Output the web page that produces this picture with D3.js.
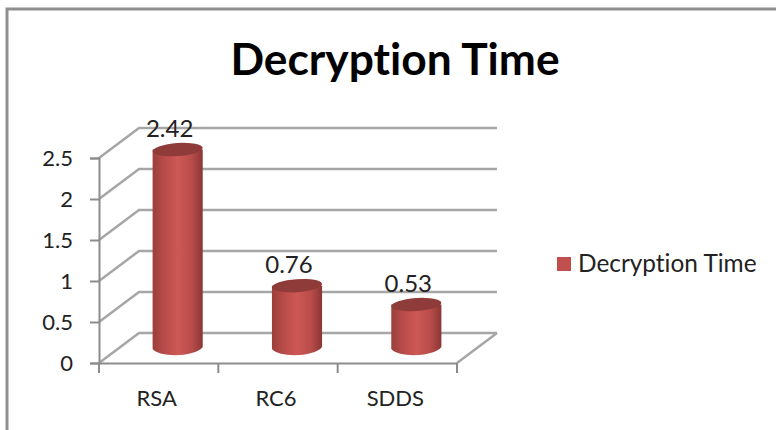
<!DOCTYPE html>
<html>
<head>
<meta charset="utf-8">
<script src="https://cdn.jsdelivr.net/npm/d3@7"></script>
<style>
  html, body { margin: 0; padding: 0; background: #fff; }
  svg { display: block; }
  text { font-family: Lato, "Noto Sans", sans-serif; fill: #222; font-variant-ligatures: none; }
  .axis path, .axis line { stroke: #8c8c8c; stroke-width: 2; }
  .axis text { font-size: 22px; fill: #222; font-family: Lato, sans-serif; }
</style>
</head>
<body>
<svg id="chart" width="776" height="430"></svg>
<script>
var chartTitle = 'Decryption Time';
var seriesName = 'Decryption Time';
var categories = ['RSA', 'RC6', 'SDDS'];
var seriesValues = [2.42, 0.76, 0.53];
var yTicks = [0, 0.5, 1, 1.5, 2, 2.5];

var width = 776;
var height = 430;
var margins = { top: 158, left: 99, right: 319, bottom: 67 };
var depthX = 40; // 3d wall offset
var depthY = 30;
var gridColor = '#a6a6a6';

var svg = d3.select('#chart');

var x = d3.scaleBand()
  .domain(categories)
  .range([margins.left, width - margins.right])
  .paddingInner(0.58)
  .paddingOuter(0.29);
var xTicks = d3.scaleBand().domain(categories).range([margins.left, width - margins.right]);
var y = d3.scaleLinear()
  .domain([0, d3.max(yTicks)])
  .range([height - margins.bottom, margins.top]);

// cylinder shading
var defs = svg.append('defs');
var grad = defs.append('linearGradient').attr('id', 'barSide');
[[0, '#9a3e3c'], [0.2, '#b54a48'], [0.5, '#cd5855'], [0.78, '#b94c4a'], [1, '#8a3735']].forEach(function (s) {
  grad.append('stop').attr('offset', s[0]).attr('stop-color', s[1]);
});

// frame
svg.append('path')
  .attr('d', 'M7,430V9H776')
  .attr('fill', 'none')
  .attr('stroke', '#8f8f8f')
  .attr('stroke-width', 3);

svg.append('text')
  .attr('x', 395)
  .attr('y', 75)
  .attr('text-anchor', 'middle')
  .attr('font-size', 44.3)
  .attr('font-weight', 700)
  .style('fill', '#000')
  .text(chartTitle);

// walls + floor
var walls = svg.append('g').attr('fill', 'none').attr('stroke', gridColor).attr('stroke-width', 2.5);
walls.selectAll('path.grid')
  .data(yTicks)
  .enter()
  .append('path')
  .attr('class', 'grid')
  .attr('d', function (d) {
    return 'M' + margins.left + ',' + y(d) +
      'L' + (margins.left + depthX) + ',' + (y(d) - depthY) +
      'H' + (width - margins.right + depthX);
  });
walls.append('path')
  .attr('d', 'M' + (width - margins.right) + ',' + y(0) + 'l' + depthX + ',' + (-depthY));

// axes
var yAxis = d3.axisLeft(y).tickValues(yTicks).tickSize(9).tickPadding(17).tickFormat(String);
svg.append('g')
  .attr('class', 'axis y')
  .attr('transform', 'translate(' + margins.left + ',0)')
  .call(yAxis);

var xAxis = d3.axisBottom(xTicks).tickSize(0).tickPadding(27);
var xg = svg.append('g')
  .attr('class', 'axis x')
  .attr('transform', 'translate(0,' + y(0) + ')')
  .call(xAxis);
xg.selectAll('.tick text').attr('dx', -2);
xg.selectAll('line.sep')
  .data(d3.range(categories.length + 1))
  .enter()
  .append('line')
  .attr('class', 'sep')
  .attr('x1', function (i) { return margins.left + i * xTicks.step(); })
  .attr('x2', function (i) { return margins.left + i * xTicks.step(); })
  .attr('y1', 0)
  .attr('y2', 10);

// cylinders
var barRy = 6.5;
var bars = svg.selectAll('g.bar')
  .data(seriesValues)
  .enter()
  .append('g')
  .attr('class', 'bar')
  .attr('transform', function (d, i) {
    return 'translate(' + (x(categories[i]) + depthX / 2 - 1) + ',' + (-depthY / 2) + ')';
  });

bars.append('path')
  .attr('fill', 'url(#barSide)')
  .attr('d', function (d) {
    var w = x.bandwidth();
    return 'M0,' + y(d) + 'V' + (y(0) + 1) +
      'C' + (w * 0.15) + ',' + (y(0) + 10) + ' ' + (w * 0.85) + ',' + (y(0) + 9) + ' ' + w + ',' + (y(0) - 1) +
      'V' + y(d) + 'Z';
  });

bars.append('ellipse')
  .attr('cx', x.bandwidth() / 2)
  .attr('cy', function (d) { return y(d); })
  .attr('rx', x.bandwidth() / 2)
  .attr('ry', barRy)
  .attr('fill', '#8f3b39')
  .attr('transform', function (d) {
    return 'rotate(-4,' + (x.bandwidth() / 2) + ',' + y(d) + ')';
  });

bars.append('text')
  .attr('x', x.bandwidth() / 2 - 8)
  .attr('y', function (d) { return y(d) - 13; })
  .attr('text-anchor', 'middle')
  .attr('font-size', 24)
  .text(function (d) { return d; });

// legend
svg.append('rect')
  .attr('x', 557)
  .attr('y', 257)
  .attr('width', 14)
  .attr('height', 14)
  .attr('fill', '#c0504d');
svg.append('text')
  .attr('x', 578)
  .attr('y', 272)
  .attr('font-size', 24.4)
  .text(seriesName);
</script>
</body>
</html>
